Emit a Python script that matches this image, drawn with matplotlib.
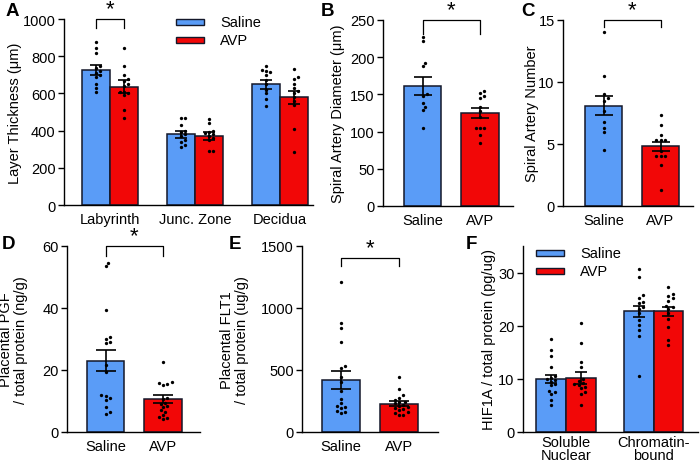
import numpy as np
import matplotlib
matplotlib.use('Agg')
import matplotlib.pyplot as plt
from matplotlib.patches import Rectangle

plt.rcParams['font.family'] = ['Liberation Sans', 'DejaVu Sans']
plt.rcParams['font.size'] = 10.5

# ---------------- data ----------------
groups = ['Saline', 'AVP']

a_categories = ['Labyrinth', 'Junc. Zone', 'Decidua']
a_saline_mean = [725, 380, 648]
a_saline_sem = [27, 20, 24]
a_avp_mean = [636, 370, 579]
a_avp_sem = [35, 20, 35]
a_saline_pts = [[875, 845, 815, 745, 735, 720, 710, 700, 690, 650, 630, 605],
                [470, 470, 430, 400, 390, 380, 370, 350, 340, 320, 310],
                [745, 725, 720, 715, 700, 670, 650, 620, 600, 570, 530]]
a_avp_pts = [[845, 750, 700, 680, 665, 650, 640, 610, 605, 600, 590, 510, 470],
             [460, 440, 400, 390, 385, 380, 370, 360, 350, 290, 290],
             [730, 690, 680, 650, 630, 615, 600, 580, 560, 540, 410, 285]]

b_mean = [161, 125]
b_sem = [12, 7]
b_pts = [[227, 222, 192, 188, 150, 148, 138, 133, 129, 105],
         [155, 152, 148, 145, 133, 128, 120, 105, 105, 105, 95, 85]]

c_mean = [8.1, 4.8]
c_sem = [0.8, 0.4]
c_pts = [[14.0, 10.5, 9.0, 8.7, 8.5, 7.7, 6.8, 6.3, 6.0, 4.5],
         [7.3, 6.5, 5.7, 5.3, 5.3, 5.3, 4.4, 4.0, 4.0, 4.0, 3.3, 1.3]]

d_mean = [23.0, 10.5]
d_sem = [3.4, 1.3]
d_pts = [[54.5, 53.5, 39.5, 30.6, 30.0, 29.0, 28.8, 21.5, 19.4, 11.8, 11.5, 11.0, 10.2, 8.1, 6.5, 5.8],
         [22.6, 16.2, 15.8, 15.5, 15.3, 11.0, 10.5, 9.5, 9.0, 8.5, 8.0, 7.0, 6.5, 5.5, 5.0, 4.5, 4.2]]

e_mean = [420, 228]
e_sem = [70, 20]
e_pts = [[1210, 880, 840, 725, 535, 515, 445, 400, 330, 270, 230, 210, 200, 190, 170, 160, 150],
         [445, 350, 295, 275, 260, 245, 240, 230, 220, 210, 200, 195, 185, 175, 160, 150, 140, 135]]

f_categories = ['Soluble\nNuclear', 'Chromatin-\nbound']
f_saline_mean = [10.0, 22.7]
f_saline_sem = [0.8, 1.1]
f_avp_mean = [10.2, 22.7]
f_avp_sem = [1.1, 0.9]
f_saline_pts = [[17.5, 15.4, 14.3, 12.2, 10.6, 10.2, 10.0, 9.8, 9.5, 9.0, 8.8, 7.8, 7.5, 7.2, 6.0, 5.0],
                [30.6, 29.1, 25.8, 25.3, 24.5, 24.2, 23.5, 23.2, 22.3, 21.1, 20.2, 19.2, 18.1, 10.6]]
f_avp_pts = [[20.5, 16.8, 13.2, 12.2, 10.0, 9.6, 9.3, 9.0, 8.8, 8.5, 8.2, 7.5, 7.2, 5.1],
             [27.3, 26.0, 25.5, 25.2, 24.7, 23.8, 23.5, 23.2, 22.3, 21.3, 19.8, 17.4, 16.4]]

# ---------------- style ----------------
BLUE = '#5A9CF7'
RED = '#F20707'
EDGE = '#14182a'
W, H = 700, 464
fig = plt.figure(figsize=(W / 100, H / 100), dpi=100)


def add_ax(l, r, t, b):
    ax = fig.add_axes([l / W, 1 - b / H, (r - l) / W, (b - t) / H])
    ax.spines['top'].set_visible(False)
    ax.spines['right'].set_visible(False)
    for s in ('left', 'bottom'):
        ax.spines[s].set_linewidth(1.0)
    ax.tick_params(axis='y', direction='out', length=4, width=1.0, pad=2, labelsize=10.5)
    ax.tick_params(axis='x', length=0, pad=5, labelsize=10.5)
    return ax


def swarm(ax, x0, vals, d=3.6):
    tr = ax.transData
    ypix = np.array([tr.transform((x0, v))[1] for v in vals])
    ppu = tr.transform((1, 0))[0] - tr.transform((0, 0))[0]
    order = np.argsort(ypix)
    placed = []
    offs = np.zeros(len(vals))
    step = d * 0.6
    for i in order:
        y = ypix[i]
        cands = [0.0]
        for k in range(1, 40):
            cands += [k * step, -k * step]
        for c in cands:
            ok = all((c - px) ** 2 + (y - py) ** 2 >= d * d for px, py in placed)
            if ok:
                offs[i] = c
                placed.append((c, y))
                break
    xs = x0 + offs / ppu
    ax.plot(xs, vals, 'o', color='black', ms=2.4, mew=0, zorder=4, clip_on=False)


def bars(ax, xs, means, sems, color, width, cap):
    ax.bar(xs, means, width=width, color=color, edgecolor=EDGE, linewidth=1.1, zorder=2)
    ax.errorbar(xs, means, yerr=sems, fmt='none', ecolor='black', elinewidth=1.2,
                capsize=cap, capthick=1.2, zorder=5)


def bracket(ax, x1, x2, ytop, ylow):
    ax.plot([x1, x1, x2, x2], [ylow, ytop, ytop, ylow], color='black', lw=0.9,
            clip_on=False, zorder=6)
    ax.text((x1 + x2) / 2, ytop, '*', ha='center', va='bottom', fontsize=16,
            clip_on=False)


def ylabel_px(ax, text, right_px, l, r):
    ax.set_ylabel(text, fontsize=10.5, linespacing=1.1)
    ax.yaxis.set_label_coords((right_px - l) / (r - l), 0.5)


def letter(x, y, s):
    fig.text(x / W, 1 - y / H, s, fontsize=13.5, fontweight='bold', ha='left', va='top')


def legend(x, y1, y2):
    for y, c, lab in ((y1, BLUE, 'Saline'), (y2, RED, 'AVP')):
        fig.patches.append(Rectangle((x / W, 1 - (y + 3) / H), 28 / W, 6 / H,
                                     transform=fig.transFigure, facecolor=c,
                                     edgecolor=EDGE, linewidth=1.0))
        fig.text((x + 44) / W, 1 - y / H, lab, fontsize=10.5, ha='left', va='center')


# ---------------- Panel A ----------------
l, r, t, b = 64, 313, 20, 206
axA = add_ax(l, r, t, b)
ppu = 85.0
axA.set_xlim((l - 110) / ppu, (r - 110) / ppu)
axA.set_ylim(0, 1000)
axA.set_yticks([0, 200, 400, 600, 800, 1000])
xa = np.arange(len(a_categories))
off, bw = 0.165, 0.32
bars(axA, xa - off, a_saline_mean, a_saline_sem, BLUE, bw, 4.6)
bars(axA, xa + off, a_avp_mean, a_avp_sem, RED, bw, 4.6)
for i in range(len(a_categories)):
    swarm(axA, xa[i] - off, a_saline_pts[i])
    swarm(axA, xa[i] + off, a_avp_pts[i])
axA.set_xticks(xa)
axA.set_xticklabels(a_categories)
ylabel_px(axA, 'Layer Thickness (μm)', 22, l, r)
bracket(axA, -off, off, 1000, 950)

# ---------------- two-bar panels ----------------
def two_bar(l, r, t, b, c0, c1, means, sems, pts, ylim, yticks, label, lab_px, br, cap):
    ax = add_ax(l, r, t, b)
    ppu = (c1 - c0)
    ax.set_xlim((l - c0) / ppu, (r - c0) / ppu)
    ax.set_ylim(*ylim)
    ax.set_yticks(yticks)
    bw = 37.5 / ppu
    ax.bar([0], [means[0]], width=bw, color=BLUE, edgecolor=EDGE, linewidth=1.1, zorder=2)
    ax.bar([1], [means[1]], width=bw, color=RED, edgecolor=EDGE, linewidth=1.1, zorder=2)
    ax.errorbar([0, 1], means, yerr=sems, fmt='none', ecolor='black', elinewidth=1.2,
                capsize=cap, capthick=1.2, zorder=5)
    swarm(ax, 0, pts[0])
    swarm(ax, 1, pts[1])
    ax.set_xticks([0, 1])
    ax.set_xticklabels(groups)
    ylabel_px(ax, label, lab_px, l, r)
    bracket(ax, 0, 1, br[0], br[1])
    return ax


two_bar(383, 513, 21, 207, 422.5, 480, b_mean, b_sem, b_pts, (0, 250),
        [0, 50, 100, 150, 200, 250], 'Spiral Artery Diameter (μm)', 345, (250, 231), 6.5)
two_bar(563, 693, 21, 207, 603.5, 660.5, c_mean, c_sem, c_pts, (0, 15),
        [0, 5, 10, 15], 'Spiral Artery Number', 539, (15, 14.4), 6.5)
two_bar(67, 200, 247, 433, 105.5, 163, d_mean, d_sem, d_pts, (0, 60),
        [0, 20, 40, 60], 'Placental PGF\n/ total protein (ng/g)', 28, (60, 56.8), 7.5)
two_bar(302, 438, 247, 433, 341, 399, e_mean, e_sem, e_pts, (0, 1500),
        [0, 500, 1000, 1500], 'Placental FLT1\n/ total protein (ug/g)', 249, (1400, 1340), 7)

# ---------------- Panel F ----------------
l, r, t, b = 523, 698, 247, 433
axF = add_ax(l, r, t, b)
ppu = 87.5
axF.set_xlim((l - 566) / ppu, (r - 566) / ppu)
axF.set_ylim(0, 35)
axF.set_yticks([0, 10, 20, 30])
xf = np.arange(len(f_categories))
off, bw = 0.17, 0.34
bars(axF, xf - off, f_saline_mean, f_saline_sem, BLUE, bw, 4.6)
bars(axF, xf + off, f_avp_mean, f_avp_sem, RED, bw, 4.6)
for i in range(len(f_categories)):
    swarm(axF, xf[i] - off, f_saline_pts[i])
    swarm(axF, xf[i] + off, f_avp_pts[i])
axF.set_xticks(xf)
axF.set_xticklabels(f_categories, linespacing=0.85)
axF.tick_params(axis='x', pad=2.5)
ylabel_px(axF, 'HIF1A / total protein (pg/ug)', 496, l, r)

# ---------------- legends & letters ----------------
legend(176, 23, 41)
legend(536, 254, 272)
letter(6, 3, 'A')
letter(321, 3, 'B')
letter(521, 3, 'C')
letter(2, 236, 'D')
letter(229, 236, 'E')
letter(466, 236, 'F')

fig.savefig('out.png', dpi=100)
